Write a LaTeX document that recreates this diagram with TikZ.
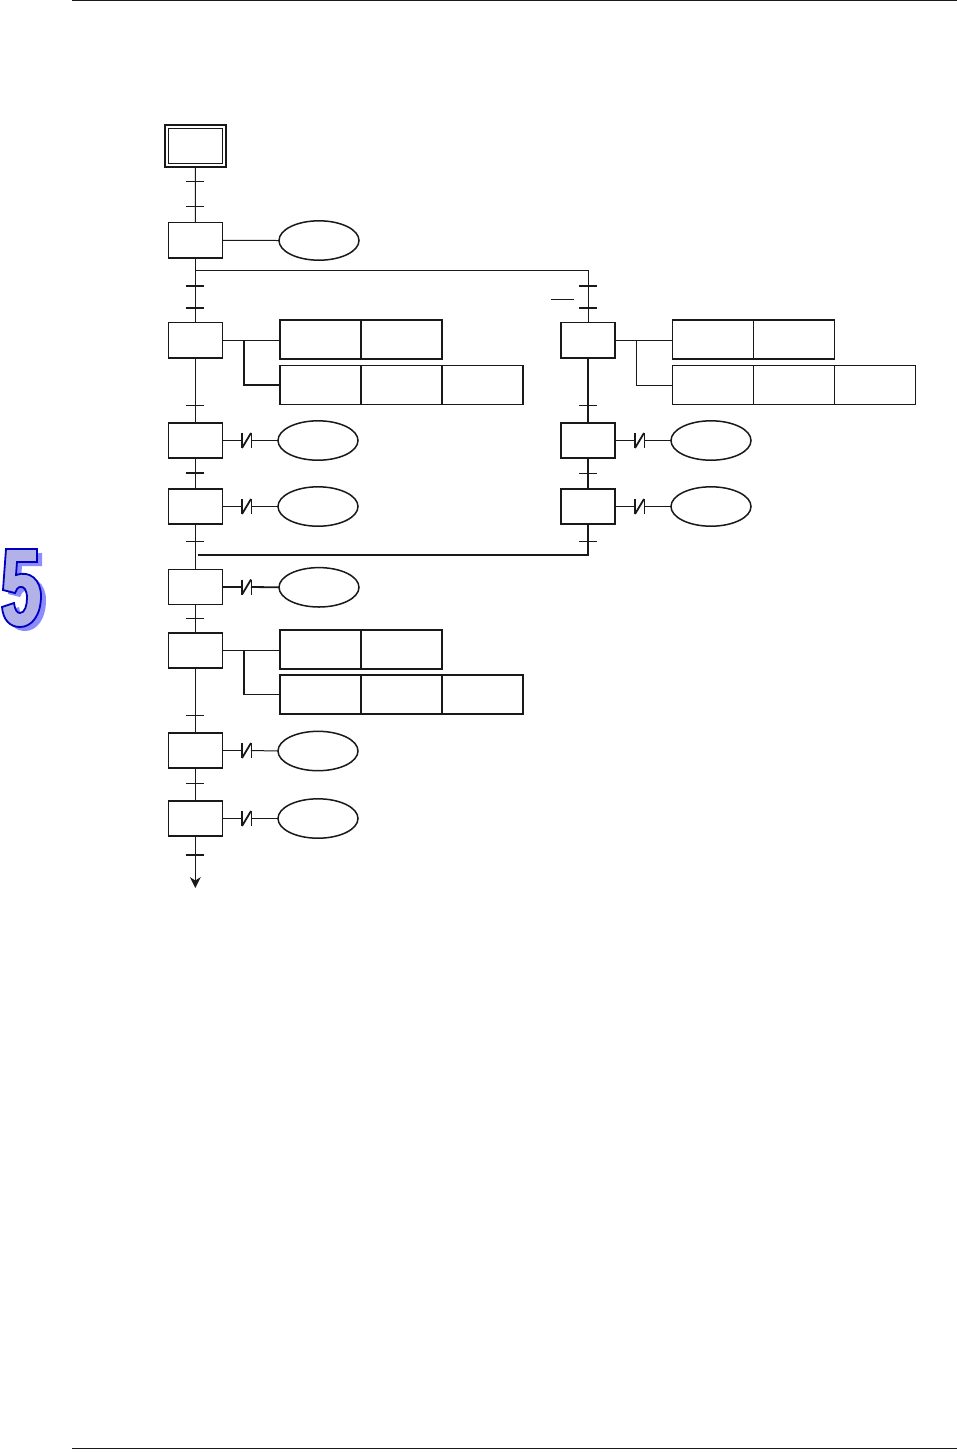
\documentclass[tikz,border=0pt]{standalone}
\usetikzlibrary{shapes.geometric,arrows.meta}
\tikzset{
  x=0.5pt,y=-0.5pt,
  ln/.style={line width=0.5pt,draw=black!90},
  thk/.style={line width=0.9pt,draw=black!90},
  stepbox/.style={draw=black!90,line width=0.75pt,minimum width=27pt,minimum height=17.7pt,inner sep=0pt,outer sep=0pt},
  act/.style={draw=black!90,line width=0.75pt,minimum width=40.5pt,minimum height=19.7pt,inner sep=0pt,outer sep=0pt},
  oval/.style={ellipse,draw=black!90,line width=0.75pt,minimum width=40pt,minimum height=19.7pt,inner sep=0pt,outer sep=0pt},
}
\newcommand{\NotMark}[3]{% name, x, y
  \coordinate (#1a) at (#2-4.5,#3);
  \coordinate (#1b) at (#2+4.5,#3);
  \draw[thk] (#2-4.5,#3-7.5) -- (#2-4.5,#3+7.5);
  \draw[ln] (#2+4.5,#3-7.5) -- (#2+4.5,#3+7.5);
  \draw[thk] (#2-4.5,#3+7.5) -- (#2+4.5,#3-7.5);
}
\newcommand{\Tick}[3][ln]{\draw[#1] (#2-9,#3) -- (#2+9,#3);}
\begin{document}
\begin{tikzpicture}
\useasboundingbox (0,0) rectangle (957,1453);
\fill[white] (0,0) rectangle (957,1453);
% page rules
\coordinate (rt0) at (72,0.6); \coordinate (rt1) at (957,0.6);
\coordinate (rb0) at (72,1448.5); \coordinate (rb1) at (957,1448.5);
\draw[ln] (rt0) -- (rt1);
\draw[ln] (rb0) -- (rb1);
% chapter mark
\fill[blue!45!white,xshift=2.5pt,yshift=-2pt]
  (6,549) -- (37,549) -- (37,562) -- (17,562) -- (16,575) .. controls (30,570) and (41,580) .. (41,596)
  .. controls (41,615) and (32,627) .. (20,627) .. controls (10,627) and (3,620) .. (2,607) -- (14,603)
  .. controls (15,610) and (17,613) .. (20,613) .. controls (25,613) and (27,605) .. (27,598)
  .. controls (27,590) and (24,586) .. (20,587) .. controls (18,587) and (16,590) .. (15,593) -- (3,590) -- cycle;
\filldraw[fill=black!30!blue!30!white,draw=blue!75!black,line width=0.9pt]
  (6,549) -- (37,549) -- (37,562) -- (17,562) -- (16,575) .. controls (30,570) and (41,580) .. (41,596)
  .. controls (41,615) and (32,627) .. (20,627) .. controls (10,627) and (3,620) .. (2,607) -- (14,603)
  .. controls (15,610) and (17,613) .. (20,613) .. controls (25,613) and (27,605) .. (27,598)
  .. controls (27,590) and (24,586) .. (20,587) .. controls (18,587) and (16,590) .. (15,593) -- (3,590) -- cycle;
% initial step
\node[draw=black!90,line width=0.75pt,minimum width=30.5pt,minimum height=21pt,inner sep=0pt,outer sep=0pt] (s0o) at (195.5,146) {};
\node[stepbox,minimum height=17.5pt] (s0) at (195.3,146) {};
% left steps
\node[stepbox] (s1) at (195.3,240.3) {};
\node[stepbox] (s2) at (195.3,340.3) {};
\node[stepbox] (s3) at (195.3,440.5) {};
\node[stepbox] (s4) at (195.3,506.5) {};
\node[stepbox] (s5) at (195.3,587) {};
\node[stepbox] (s6) at (195.3,650.5) {};
\node[stepbox] (s7) at (195.3,750.5) {};
\node[stepbox] (s8) at (195.3,818.5) {};
% right steps
\node[stepbox] (r2) at (588,340.3) {};
\node[stepbox] (r3) at (588,440.5) {};
\node[stepbox] (r4) at (588,506.5) {};
% ovals
\node[oval] (e1) at (319,240.5) {};
\node[oval] (e3) at (318,440.5) {};
\node[oval] (e4) at (318,506.5) {};
\node[oval] (e5) at (319,587.3) {};
\node[oval] (e7) at (318,751) {};
\node[oval] (e8) at (318,818.5) {};
\node[oval] (f3) at (711,440.5) {};
\node[oval] (f4) at (711,506.5) {};
% action tables
\foreach \n/\cx/\cy in {a/320.5/339.5,b/401.5/339.5,c/320.5/385,d/401.5/385,e/482.5/385,
                        g/320.5/649.5,h/401.5/649.5,i/320.5/694.5,j/401.5/694.5,k/482.5/694.5,
                        m/713/339.5,n/794/339.5,o/713/385,p/794/385,q/875/385}
  \node[act] (\n) at (\cx,\cy) {};
% main line
\draw[ln] (s0o.south) -- (s1.north);
\draw[ln] (s1.south) -- (s2.north);
\draw[ln] (s2.south) -- (s3.north);
\draw[ln] (s3.south) -- (s4.north);
\draw[ln] (s4.south) -- (s5.north);
\draw[ln] (s5.south) -- (s6.north);
\draw[ln] (s6.south) -- (s7.north);
\draw[ln] (s7.south) -- (s8.north);
\coordinate (end) at (195.3,888);
\draw[ln,-{Stealth[length=5.5pt,width=5.5pt]}] (s8.south) -- (end);
% divergence
\coordinate (dv) at (195.3,270.5);
\coordinate (dr) at (588,270.5);
\draw[ln] (dv) -- (dr) -- (r2.north);
\draw[thk] (r2.south) -- (r3.north);
\draw[thk] (r3.south) -- (r4.north);
% convergence
\coordinate (cl) at (197.5,555);
\coordinate (cr) at (588,555);
\draw[thk] (cl) -- (cr) -- (r4.south);
% transitions
\Tick{195.3}{181}\Tick{195.3}{206}
\Tick[thk]{195.3}{286}\Tick[thk]{195.3}{308}
\Tick{195.3}{405}\Tick[thk]{195.3}{473}\Tick{195.3}{541}\Tick{195.3}{618.5}
\Tick{195.3}{715}\Tick{195.3}{783}\Tick[line width=1.1pt,draw=black!90]{195.3}{855}
\Tick[thk]{588}{286}\Tick[thk]{588}{308}
\Tick{588}{405}\Tick{588}{473}\Tick{588}{541}
\coordinate (ov0) at (551,299); \coordinate (ov1) at (574,299);
\draw[ln] (ov0) -- (ov1);
% s1 to oval
\draw[ln] (s1.east) -- (e1.west);
% action connectors
\draw[ln] (s2.east) -- (s2.east -| a.west);
\coordinate (j2) at (244,340.3);
\draw[thk] (j2) |- (c.west);
\draw[thk] (s6.east) -- (s6.east -| g.west);
\coordinate (j6) at (244,650.5);
\draw[thk] (j6) |- (i.west);
\draw[ln] (r2.east) -- (r2.east -| m.west);
\coordinate (jr) at (636.5,340.3);
\draw[ln] (jr) |- (o.west);
% inhibit marks
\NotMark{n3}{246.5}{440.5}
\draw[thk] (s3.east) -- (n3a); \draw[ln] (n3b) -- (e3.west);
\NotMark{n4}{246.5}{506.5}
\draw[thk] (s4.east) -- (n4a); \draw[thk] (n4b) -- (e4.west);
\NotMark{n5}{246.5}{587}
\draw[thk] (s5.east) -- (n5a); \draw[thk] (n5b) -- (e5.west);
\NotMark{n7}{246.5}{750.5}
\draw[thk] (s7.east) -- (n7a); \draw[ln] (n7b) -- (e7.west);
\NotMark{n8}{246.5}{818.5}
\draw[thk] (s8.east) -- (n8a); \draw[thk] (n8b) -- (e8.west);
\NotMark{m3}{639.5}{440.5}
\draw[thk] (r3.east) -- (m3a); \draw[ln] (m3b) -- (f3.west);
\NotMark{m4}{639.5}{506.5}
\draw[thk] (r4.east) -- (m4a); \draw[thk] (m4b) -- (f4.west);
\end{tikzpicture}
\end{document}
